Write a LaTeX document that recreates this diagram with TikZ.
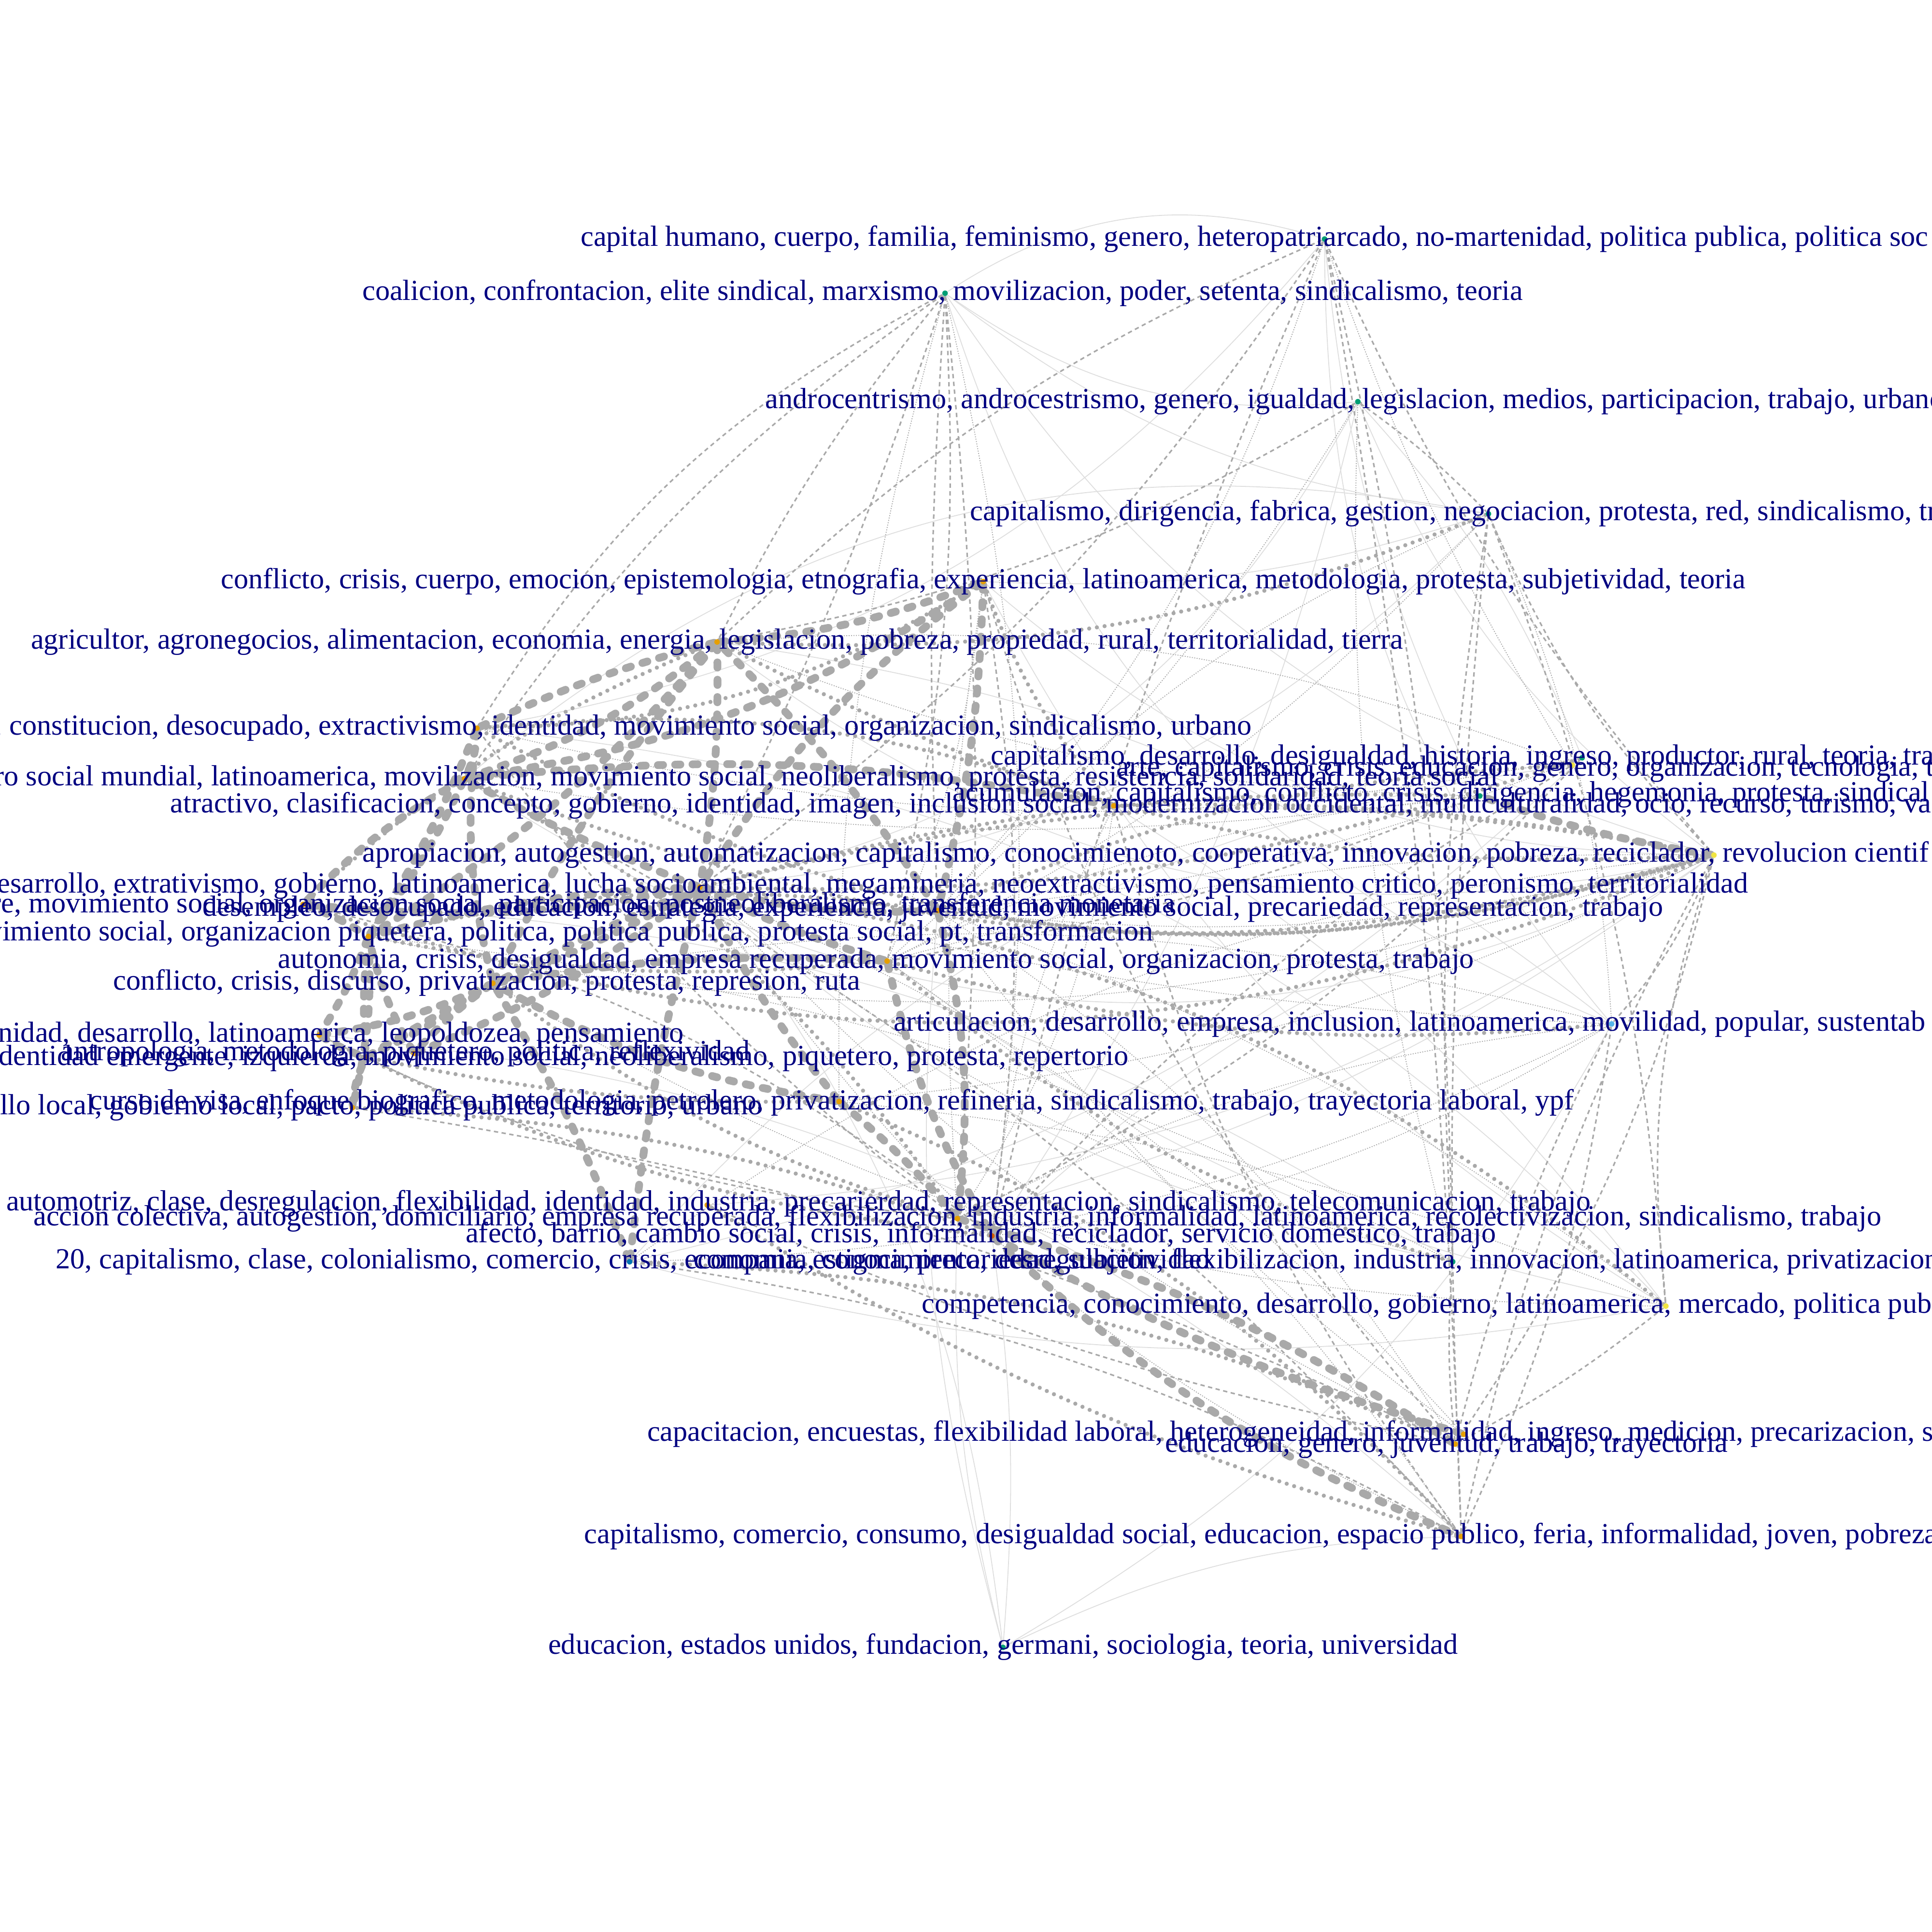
\documentclass[tikz,border=0pt]{standalone}
\usepackage{fontspec}
\setmainfont{Liberation Serif}
\usetikzlibrary{backgrounds}
\definecolor{navyc}{RGB}{0,0,128}
\definecolor{edgec}{RGB}{169,169,169}
\definecolor{thinc}{RGB}{222,222,222}
\definecolor{oka}{RGB}{230,159,0}
\definecolor{okteal}{RGB}{0,158,115}
\definecolor{okyel}{RGB}{240,228,66}
\definecolor{okblue}{RGB}{0,114,178}
\definecolor{oksky}{RGB}{86,180,233}
\definecolor{okver}{RGB}{213,94,0}
\tikzset{
  lab/.style={font=\fontsize{16.8}{20}\selectfont, text=navyc, inner sep=0pt, text height=11.5pt, text depth=3.6pt},
  gdot/.style={circle, inner sep=0pt, minimum size=3.2pt, fill=#1},
  ethin/.style={draw=thinc, line width=0.5pt},
  edot/.style={draw=edgec, line width=0.5pt, dash pattern=on 0.6pt off 0.8pt},
  edash/.style={draw=edgec, line width=0.9pt, dash pattern=on 2.5pt off 2pt},
  ebead/.style={draw=edgec, line width=2.4pt, line cap=round, dash pattern=on 0pt off 4.5pt},
  ethick/.style={draw=edgec, line width=4.5pt, line cap=round, dash pattern=on 3pt off 7pt}
}
\begin{document}
\begin{tikzpicture}[x=0.025cm, y=-0.025cm]
\useasboundingbox (0,0) rectangle (1568,1568);
\clip (0,0) rectangle (1568,1568);
% graph nodes
\node[gdot=okteal] (A) at (1075,194) {};
\node[gdot=okteal] (B) at (767,238) {};
\node[gdot=okteal] (C) at (1102,326) {};
\node[gdot=okteal] (D) at (1208,417) {};
\node[gdot=oka] (E) at (798,472) {};
\node[gdot=oka] (F) at (582,521) {};
\node[gdot=oka] (G) at (387,591) {};
\node[gdot=okteal] (H) at (1284,615) {};
\node[gdot=okyel] (I) at (1276,621) {};
\node[gdot=oka] (J) at (377,632) {};
\node[gdot=okteal] (K) at (1201,646) {};
\node[gdot=oka] (L) at (904,654) {};
\node[gdot=okyel] (M) at (1391,694) {};
\node[gdot=oka] (N) at (568,720) {};
\node[gdot=oka] (O) at (246,734) {};
\node[gdot=oka] (P) at (761,739) {};
\node[gdot=oka] (Q) at (299,760) {};
\node[gdot=oka] (R) at (720,780) {};
\node[gdot=oka] (S) at (400,798) {};
\node[gdot=oksky] (T) at (1308,831) {};
\node[gdot=oka] (U) at (259,840) {};
\node[gdot=oka] (V) at (336,855) {};
\node[gdot=oka] (W) at (297,858) {};
\node[gdot=oka] (X) at (681,894) {};
\node[gdot=oka] (Y) at (286,899) {};
\node[gdot=oka] (Z) at (574,978) {};
\node[gdot=oka] (AA) at (777,989) {};
\node[gdot=okver] (AB) at (805,1003) {};
\node[gdot=okblue] (AC) at (511,1024) {};
\node[gdot=okteal] (AD) at (1179,1024) {};
\node[gdot=okyel] (AE) at (1352,1060) {};
\node[gdot=oka] (AF) at (1188,1164) {};
\node[gdot=oka] (AG) at (1181,1172) {};
\node[gdot=oka] (AH) at (1186,1247) {};
\node[gdot=okteal] (AI) at (814,1337) {};
% connectors
\begin{scope}[on background layer]
\foreach \a/\b/\c in {B/A/25, B/D/-15, B/C/-20, B/M/-20, B/T/-25, C/AB/10, C/M/-15, A/T/-20, AI/AA/8, AI/AB/-6, AI/P/10, AI/N/-15, AI/AH/12, E/M/-20, E/D/-10, F/M/-25, F/T/15, J/M/-30, G/AE/20, O/AD/15, U/AH/18, AC/AE/-12, Z/M/-15, AA/M/-10, H/AC/15, I/AC/-20, D/N/20, D/J/-25, C/N/25, A/G/20, E/AE/-15, L/AE/10, R/AE/-12, AB/M/15, N/AD/-15, AI/T/-15, A/K/-10, C/H/10}
  \draw[ethin] (\a) to[bend left=\c] (\b);
\foreach \a/\b/\c in {P/M/-10, R/M/8, AB/T/-12, AA/T/10, N/T/-6, Q/M/-15, S/T/12, X/M/-10, X/AE/8, G/H/-12, J/K/-8, F/K/-10, F/I/12, P/H/-8, R/K/10, AD/N/12, AD/Q/-10, AE/S/15, AE/P/-8, AG/N/10, AG/P/-12, AH/N/15, AH/R/-10, AF/N/-12, AF/P/8, T/AC/12, M/AC/-15, D/R/10, D/P/-12, C/R/8, A/P/12, B/X/-8, B/AB/10, E/AA/-6, E/R/8, L/AA/12, L/AB/-10, C/AD/-8, D/T/10, A/I/-6}
  \draw[edot] (\a) to[bend left=\c] (\b);
\foreach \a/\b/\c in {B/F/-6, B/J/-10, B/N/4, B/P/-3, B/AA/5, B/R/8, A/AB/-5, A/AD/6, A/N/10, A/M/-8, A/AH/4, C/D/5, D/AD/-6, D/AE/8, D/M/-10, C/F/10, M/AH/-8, M/AG/10, T/AG/-6, T/AH/8, AE/AG/5, AD/AG/-5, H/AA/10, I/AB/-8, K/R/6, L/AH/-10, E/AB/8, E/AG/-12, J/AH/10, G/AA/-8, O/AB/12, U/AA/-10, Y/AG/8, Z/AG/-6, AC/AH/10, T/M/-10, AE/M/12, D/AH/-4, B/G/-15, A/F/-10}
  \draw[edash] (\a) to[bend left=\c] (\b);
\foreach \a/\b/\c in {L/G/-12, E/G/15, F/O/-10, R/Q/8, P/Q/-10, X/W/6, AA/S/10, AB/Y/-8, AD/R/12, AE/N/-15, T/R/10, M/N/-12, M/F/15, K/N/-8, H/N/10, I/P/-10, D/F/12, AG/AC/-10, AH/Z/8, M/L/-6, AH/X/-12, E/L/-10, AB/U/10, AA/J/-14, M/P/12, J/M/-18, G/M/-22, O/M/-20}
  \draw[ebead] (\a) to[bend left=\c] (\b);
\foreach \a/\b/\c in {F/E/-8, F/N/5, F/J/10, F/G/-5, F/Q/8, F/S/-6, E/P/6, E/N/-10, N/J/4, N/Q/-6, N/O/8, N/S/5, N/W/-4, J/Q/6, J/O/-8, G/Q/5, G/S/-10, Q/U/6, Q/W/-5, Q/Y/8, S/W/5, S/V/-6, R/AB/-8, P/AA/10, R/N/5, P/F/-6, AC/N/4, AC/S/-5, AB/AH/-10, AA/AG/8, AB/AF/-6, M/K/5, AA/X/-5, X/N/6, L/J/-8, E/J/12, V/Q/8, U/W/-6, Y/W/10, V/N/-8, O/Q/6, G/J/12, U/S/-8, X/S/10, R/S/-6, P/N/8}
  \draw[ethick] (\a) to[bend left=\c] (\b);
\end{scope}
% labels
\node[lab, anchor=west] (lA) at (471,194) {capital humano, cuerpo, familia, feminismo, genero, heteropatriarcado, no-martenidad, politica publica, politica soc};
\node[lab] (lB) at (765,238) {coalicion, confrontacion, elite sindical, marxismo, movilizacion, poder, setenta, sindicalismo, teoria};
\node[lab, anchor=west] (lC) at (621,326) {androcentrismo, androcestrismo, genero, igualdad, legislacion, medios, participacion, trabajo, urbano};
\node[lab, anchor=west] (lD) at (787,417) {capitalismo, dirigencia, fabrica, gestion, negociacion, protesta, red, sindicalismo, tr};
\node[lab] (lE) at (798,472) {conflicto, crisis, cuerpo, emocion, epistemologia, etnografia, experiencia, latinoamerica, metodologia, protesta, subjetividad, teoria};
\node[lab] (lF) at (582,521) {agricultor, agronegocios, alimentacion, economia, energia, legislacion, pobreza, propiedad, rural, territorialidad, tierra};
\node[lab, anchor=east] (lG) at (1016,591) {, constitucion, desocupado, extractivismo, identidad, movimiento social, organizacion, sindicalismo, urbano};
\node[lab, anchor=west] (lH) at (804,615) {capitalismo, desarrollo, desigualdad, historia, ingreso, productor, rural, teoria, tra};
\node[lab, anchor=west] (lI) at (906,624) {arte, capitalismo, crisis, educacion, genero, organizacion, tecnologia, t};
\node[lab, anchor=east] (lJ) at (1216,632) {ro social mundial, latinoamerica, movilizacion, movimiento social, neoliberalismo, protesta, resistencia, solidaridad, teoria social};
\node[lab, anchor=west] (lK) at (773,645) {acumulacion, capitalismo, conflicto, crisis, dirigencia, hegemonia, protesta, sindical};
\node[lab, anchor=west] (lL) at (138,654) {atractivo, clasificacion, concepto, gobierno, identidad, imagen, inclusion social, modernizacion occidental, multiculturalidad, ocio, recurso, turismo, va};
\node[lab, anchor=west] (lM) at (294,694) {apropiacion, autogestion, automatizacion, capitalismo, conocimienoto, cooperativa, innovacion, pobreza, reciclador, revolucion cientif};
\node[lab, anchor=east] (lN) at (1419,719) {esarrollo, extrativismo, gobierno, latinoamerica, lucha socioambiental, megamineria, neoextractivismo, pensamiento critico, peronismo, territorialidad};
\node[lab, anchor=east] (lO) at (954,735) {re, movimiento social, organizacion social, participacion, postneoliberalismo, transferencia monetaria};
\node[lab] (lP) at (757,738) {desempleo, desocupado, educacion, estrategia, experiencia, juventud, movimiento social, precariedad, representacion, trabajo};
\node[lab, anchor=east] (lQ) at (936,758) {vimiento social, organizacion piquetera, politica, politica publica, protesta social, pt, transformacion};
\node[lab] (lR) at (711,780) {autonomia, crisis, desigualdad, empresa recuperada, movimiento social, organizacion, protesta, trabajo};
\node[lab] (lS) at (395,798) {conflicto, crisis, discurso, privatizacion, protesta, represion, ruta};
\node[lab, anchor=west] (lT) at (725,831) {articulacion, desarrollo, empresa, inclusion, latinoamerica, movilidad, popular, sustentab};
\node[lab, anchor=east] (lU) at (555,840) {nidad, desarrollo, latinoamerica, leopoldozea, pensamiento};
\node[lab] (lV) at (329,855) {antropologia, metodologia, piquetero, politica, reflexividad};
\node[lab, anchor=east] (lW) at (916,859) {dentidad emergente, izquierda, movimiento social, neoliberalismo, piquetero, protesta, repertorio};
\node[lab] (lX) at (675,895) {curso de visa, enfoque biografico, metodologia, petrolero, privatizacion, refineria, sindicalismo, trabajo, trayectoria laboral, ypf};
\node[lab, anchor=east] (lY) at (619,899) {llo local, gobierno local, pacto, politica publica, territorio, urbano};
\node[lab] (lZ) at (648,977) {automotriz, clase, desregulacion, flexibilidad, identidad, industria, precarierdad, representacion, sindicalismo, telecomunicacion, trabajo};
\node[lab] (lAA) at (777,989) {accion colectiva, autogestion, domiciliario, empresa recuperada, flexibilizacion, industria, informalidad, latinoamerica, recolectivizacion, sindicalismo, trabajo};
\node[lab] (lAB) at (796,1003) {afecto, barrio, cambio social, crisis, informalidad, reciclador, servicio domestico, trabajo};
\node[lab, anchor=west] (lAC) at (45,1024) {20, capitalismo, clase, colonialismo, comercio, crisis, economia, estigma, precariedad, subjetividad};
\node[lab, anchor=west] (lAD) at (563,1024) {compania, conocimiento, desregulacion, flexibilizacion, industria, innovacion, latinoamerica, privatizacion, tecno};
\node[lab, anchor=west] (lAE) at (748,1060) {competencia, conocimiento, desarrollo, gobierno, latinoamerica, mercado, politica pub};
\node[lab, anchor=west] (lAF) at (525,1164) {capacitacion, encuestas, flexibilidad laboral, heterogeneidad, informalidad, ingreso, medicion, precarizacion, s};
\node[lab] (lAG) at (1174,1173) {educacion, genero, juventud, trabajo, trayectoria};
\node[lab, anchor=west] (lAH) at (474,1247) {capitalismo, comercio, consumo, desigualdad social, educacion, espacio publico, feria, informalidad, joven, pobreza};
\node[lab] (lAI) at (814,1337) {educacion, estados unidos, fundacion, germani, sociologia, teoria, universidad};
\end{tikzpicture}
\end{document}
